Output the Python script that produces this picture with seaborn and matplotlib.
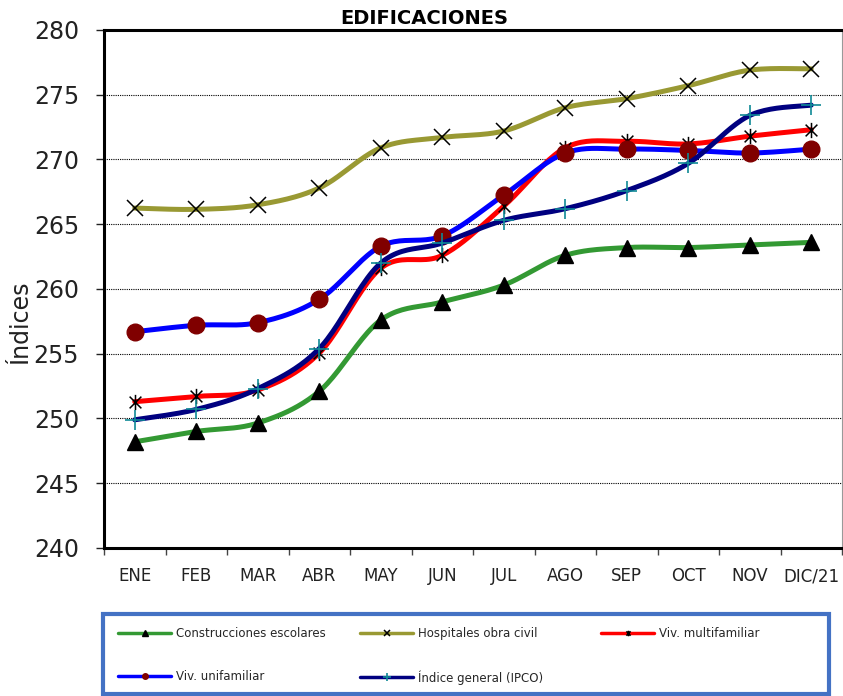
import numpy as np
import pandas as pd
import matplotlib
matplotlib.use("Agg")
import matplotlib.pyplot as plt
from matplotlib.lines import Line2D
from matplotlib.patches import Rectangle
from matplotlib.path import Path
import seaborn as sns

# %% data

meses = ['ENE', 'FEB', 'MAR', 'ABR', 'MAY', 'JUN', 'JUL', 'AGO', 'SEP', 'OCT', 'NOV', 'DIC/21']

escolares = [248.2, 249.0, 249.65, 252.1, 257.6, 259.0, 260.3, 262.6, 263.2, 263.2, 263.4, 263.6]
hospitales = [266.25, 266.15, 266.5, 267.8, 270.9, 271.7, 272.2, 274.0, 274.7, 275.7, 276.9, 277.0]
multifamiliar = [251.3, 251.7, 252.2, 255.05, 261.6, 262.6, 266.4, 270.9, 271.4, 271.2, 271.8, 272.3]
unifamiliar = [256.7, 257.2, 257.4, 259.2, 263.3, 264.1, 267.25, 270.5, 270.8, 270.7, 270.5, 270.8]
ipco = [249.9, 250.7, 252.3, 255.4, 262.0, 263.55, 265.3, 266.2, 267.6, 269.7, 273.4, 274.2]

nombres = ['Construcciones escolares', 'Hospitales obra civil', 'Viv. multifamiliar',
           'Viv. unifamiliar', 'Índice general (IPCO)']

# %% helpers

# asterisk marker like excel's "star" (x + vertical bar)
star = Path([(-1, -1), (1, 1), (-1, 1), (1, -1), (0, -1.3), (0, 1.3)],
            [Path.MOVETO, Path.LINETO, Path.MOVETO, Path.LINETO, Path.MOVETO, Path.LINETO])


def smooth_line(x, y, n=24):
    # excel style smoothed line (catmull-rom bezier), only used for the drawn curve
    x = np.asarray(x, float)
    y = np.asarray(y, float)
    px = np.concatenate([[x[0]], x, [x[-1]]])
    py = np.concatenate([[y[0]], y, [y[-1]]])
    xs, ys = [], []
    t = np.linspace(0, 1, n)
    for i in range(1, len(px) - 2):
        p0 = np.array([px[i], py[i]])
        p3 = np.array([px[i + 1], py[i + 1]])
        p1 = p0 + (np.array([px[i + 1], py[i + 1]]) - np.array([px[i - 1], py[i - 1]])) / 6
        p2 = p3 - (np.array([px[i + 2], py[i + 2]]) - np.array([px[i], py[i]])) / 6
        pts = ((1 - t) ** 3)[:, None] * p0 + (3 * (1 - t) ** 2 * t)[:, None] * p1 \
            + (3 * (1 - t) * t ** 2)[:, None] * p2 + (t ** 3)[:, None] * p3
        xs.extend(pts[:, 0])
        ys.extend(pts[:, 1])
    return np.array(xs), np.array(ys)


# %% plot

sns.set_style("white")
plt.rcParams['font.family'] = ['DejaVu Sans']

fig = plt.figure(figsize=(8.43, 6.96), dpi=100)
ax = fig.add_axes([104 / 843, 1 - 548 / 696, 738 / 843, 518 / 696])

xpos = np.arange(len(meses))

series = [
    (escolares, '#339933', dict(marker='^', color='black', markersize=11, linestyle='none')),
    (hospitales, '#999933', dict(marker='x', color='black', markersize=11, mew=1.1, linestyle='none')),
    (multifamiliar, '#ff0000', dict(marker=star, color='black', markersize=11, mew=1.1, linestyle='none')),
    (unifamiliar, '#0000ff', dict(marker='o', color='#800000', markersize=12, linestyle='none')),
    (ipco, '#000080', dict(marker='+', color='#0f8a96', markersize=14, mew=1.2, linestyle='none')),
]

handles = []
for k, (vals, col, mk) in enumerate(series):
    sx, sy = smooth_line(xpos, vals)
    df = pd.DataFrame({'x': sx, 'y': sy})
    sns.lineplot(data=df, x='x', y='y', ax=ax, color=col, lw=3.6, sort=False,
                 zorder=3 + k, solid_capstyle='round')
    ax.plot(xpos, vals, zorder=3 + k, **mk)
    hmk = {kk: v for kk, v in mk.items() if kk not in ('color', 'linestyle')}
    hmk['markersize'] = 4 if mk['marker'] != '+' else 6
    handles.append(Line2D([], [], lw=2.5, color=col, markerfacecolor=mk['color'],
                          markeredgecolor=mk['color'], **hmk))

ax.set_xlim(-0.5, 11.5)
ax.set_ylim(240, 280)
ax.set_yticks(np.arange(240, 281, 5))
ax.set_xticks(xpos)
ax.set_xticklabels(meses)
ax.set_xticks(np.arange(-0.5, 12, 1), minor=True)
ax.tick_params(axis='x', which='major', length=0, pad=14, labelsize=12, colors='#222222')
ax.tick_params(axis='x', which='minor', length=5, width=1, direction='out', bottom=True, color='#444444')
ax.tick_params(axis='y', length=6, width=1, direction='out', left=True, pad=12, labelsize=17,
               colors='#222222')
ax.set_xlabel('')
ax.set_ylabel('')

ax.yaxis.grid(True, linestyle=(0, (1, 1)), color='black', lw=0.8)
ax.xaxis.grid(False)
ax.set_axisbelow(True)

for s in ['left', 'bottom', 'top']:
    ax.spines[s].set_color('black')
    ax.spines[s].set_linewidth(2.2)
ax.spines['right'].set_color('#999999')
ax.spines['right'].set_linewidth(0.8)

fig.text(424 / 843, 1 - 19 / 696, 'EDIFICACIONES', ha='center', va='center',
         fontsize=14, fontweight='bold', color='black')
fig.text(20 / 843, 1 - 322 / 696, 'Índices', rotation=90, ha='center', va='center',
         fontsize=17, color='#222222')

# legend box, then one legend per column so the columns sit where excel put them
fig.patches.append(Rectangle((103 / 843, 2 / 696), 726 / 843, 80 / 696, transform=fig.transFigure,
                             facecolor='white', edgecolor='#4472c4', lw=3, zorder=0))
columnas = [[0, 3], [1, 4], [2]]
col_x = [118, 360, 601]
for idx, cx in zip(columnas, col_x):
    fig.legend([handles[i] for i in idx], [nombres[i] for i in idx],
               loc='upper left', bbox_to_anchor=(cx / 843, 1 - 627 / 696),
               fontsize=8.5, handlelength=4.5, handletextpad=0.4, labelspacing=2.55,
               borderpad=0, borderaxespad=0, frameon=False)

fig.savefig('out.png', dpi=100)
